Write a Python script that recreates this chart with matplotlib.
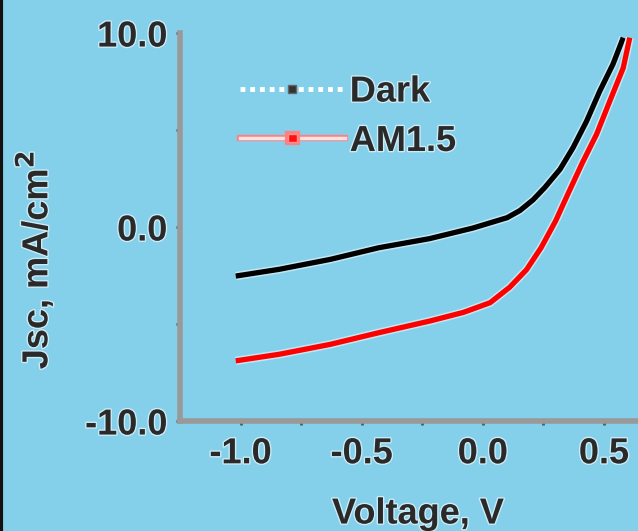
import matplotlib
matplotlib.use('Agg')
import matplotlib.pyplot as plt
import matplotlib.patheffects as pe
from matplotlib.lines import Line2D

# data
voltage_dark = [-1.02, -0.84, -0.63, -0.43, -0.22, -0.04, 0.1, 0.153, 0.207, 0.255,
                0.318, 0.372, 0.428, 0.482, 0.537, 0.579]
j_dark = [-2.53, -2.18, -1.67, -1.07, -0.6, -0.05, 0.48, 0.85, 1.4, 2.03,
          2.97, 4.09, 5.46, 7.0, 8.4, 9.76]

voltage_am15 = [-1.02, -0.84, -0.63, -0.43, -0.22, -0.08, 0.03, 0.111, 0.18, 0.24, 0.30,
                0.35, 0.41, 0.469, 0.524, 0.579, 0.606]
j_am15 = [-6.9, -6.56, -6.05, -5.45, -4.85, -4.4, -3.9, -3.1, -2.2, -1.07, 0.31,
          1.68, 3.3, 4.78, 6.5, 8.2, 9.76]

x_ticks = [-1.0, -0.5, 0.0, 0.5]
y_ticks = [-10.0, 0.0, 10.0]
x_minor = [-0.75, -0.25, 0.25]
y_minor = [-5.0, 5.0]

BG = '#84d0ea'
SPINE = '#999999'
TXT = '#2a2a2a'
FS = 26

plt.rcParams['font.family'] = ['Liberation Sans', 'DejaVu Sans']
plt.rcParams['font.weight'] = 'bold'

halo = [pe.withStroke(linewidth=2, foreground='white', alpha=0.6)]

fig = plt.figure(figsize=(6.38, 5.31), dpi=100, facecolor=BG)
ax = fig.add_axes([180 / 638, 1 - 421 / 531, 1 - 180 / 638, (421 - 33) / 531])
ax.set_facecolor(BG)

line_halo = [pe.Stroke(linewidth=6, foreground='white', alpha=0.5), pe.Normal()]
ax.plot(voltage_dark, j_dark, color='black', lw=3.8, solid_capstyle='butt',
        solid_joinstyle='round', path_effects=line_halo)
ax.plot(voltage_am15, j_am15, color='#ff0000', lw=3.8, solid_capstyle='butt',
        solid_joinstyle='round', path_effects=line_halo)

ax.set_xlim(-1.25, 0.64)
ax.set_ylim(-10, 10)
ax.set_xticks(x_ticks)
ax.set_xticklabels(['%.1f' % v for v in x_ticks])
ax.set_yticks(y_ticks)
ax.set_yticklabels(['%.1f' % v for v in y_ticks])
ax.set_xticks(x_minor, minor=True)
ax.set_yticks(y_minor, minor=True)

for side in ['top', 'right']:
    ax.spines[side].set_visible(False)
for side in ['left', 'bottom']:
    ax.spines[side].set_color(SPINE)
    ax.spines[side].set_linewidth(4)

ax.tick_params(which='both', direction='out', length=3, width=2, color='#555555',
               labelsize=FS, labelcolor=TXT)
ax.tick_params(axis='x', pad=8)
ax.tick_params(axis='y', pad=6)
for lab in ax.get_xticklabels() + ax.get_yticklabels():
    lab.set_fontweight('bold')
    lab.set_path_effects(halo)

# legend
dark_handle = Line2D([0, 0.5, 1], [0, 0, 0], color='white', ls=(0, (1, 1)), lw=3.5,
                     marker='s', ms=6, mfc='#333333', mec='#666666', markevery=[1])
am_handle = Line2D([0, 0.5, 1], [0, 0, 0], color='#ffe0e0', lw=2.5, marker='s', ms=6,
                   mfc='#ff1010', mec='#ff9090', markevery=[1],
                   path_effects=[pe.Stroke(linewidth=4.5, foreground='#ff8080'), pe.Normal()])
leg = ax.legend([dark_handle, am_handle], ['Dark', 'AM1.5'], loc='upper left',
                bbox_to_anchor=(0.131, 0.893), frameon=False, handlelength=2.9,
                handletextpad=0.14, labelspacing=0.4, borderpad=0, borderaxespad=0,
                prop={'size': FS, 'weight': 'bold'})
for t in leg.get_texts():
    t.set_color(TXT)
    t.set_path_effects(halo)

fig.text(35 / 638, 1 - 260 / 531, 'Jsc, mA/cm$^\\mathbf{2}$', rotation=90, ha='center', va='center',
         fontsize=FS, fontweight='bold', color=TXT, path_effects=halo)
fig.text(418 / 638, 1 - 514 / 531, 'Voltage, V', ha='center', va='center',
         fontsize=FS, fontweight='bold', color=TXT, path_effects=halo)

# dark edge line at the far left of the crop
fig.add_artist(Line2D([0.002, 0.002], [0, 1], transform=fig.transFigure, color='#111111', lw=3))

fig.savefig('out.png', dpi=100, facecolor=BG)
